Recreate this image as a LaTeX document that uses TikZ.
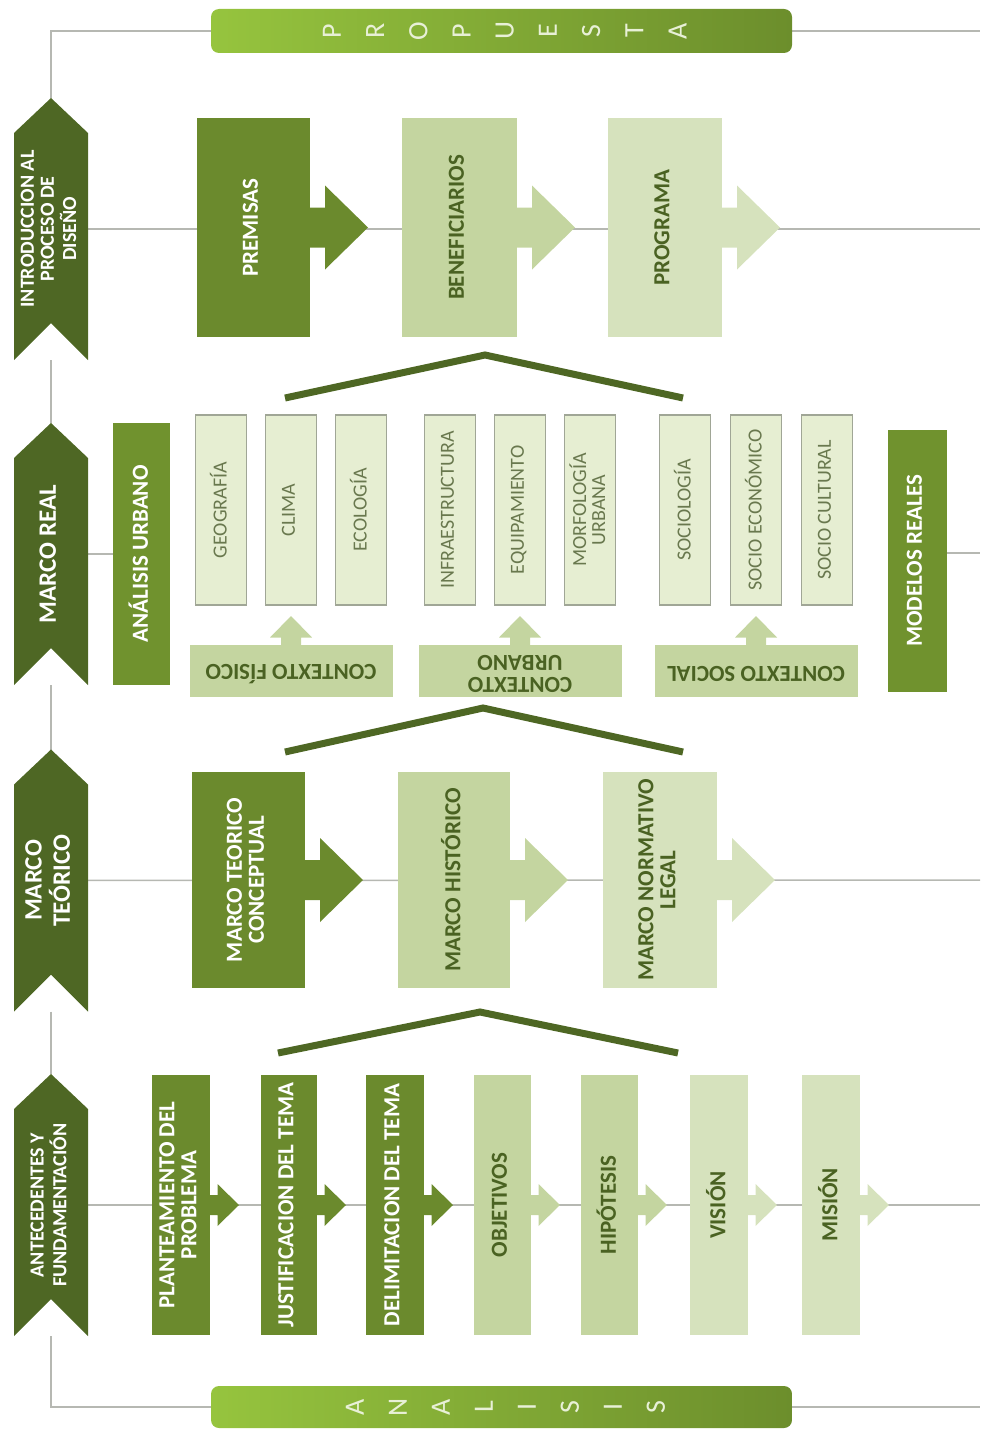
\documentclass[tikz,border=0pt]{standalone}
\usepackage{graphicx}
\usepackage{fontspec}
\setmainfont{Carlito}
\usetikzlibrary{calc,positioning,backgrounds}

\definecolor{vdosc}{RGB}{78,103,36}
\definecolor{vmed}{RGB}{107,138,45}
\definecolor{vviv}{RGB}{112,146,46}
\definecolor{vcla}{RGB}{196,213,160}
\definecolor{vpal}{RGB}{214,226,189}
\definecolor{vcre}{RGB}{230,238,210}
\definecolor{vtx}{RGB}{74,98,34}
\definecolor{vgt}{RGB}{105,120,78}
\definecolor{grl}{RGB}{182,184,178}
\definecolor{grb}{RGB}{160,166,150}
\definecolor{lima}{RGB}{150,196,62}
\definecolor{oliva}{RGB}{108,142,44}
\definecolor{pal}{RGB}{232,240,215}

% texto girado
\newcommand{\vt}[1]{\rotatebox{90}{\begin{tabular}{@{}c@{}}#1\end{tabular}}}
\newcommand{\invt}[1]{\rotatebox{180}{\begin{tabular}{@{}c@{}}#1\end{tabular}}}
% flecha de bloque: ancla, color, escala, giro
\newcommand{\flecha}[4]{\fill[#2,shift={(#1)},rotate=#4,scale=#3]
  (-2,-20) -- (15,-20) -- (15,-42) -- (58,0) -- (15,42) -- (15,20) -- (-2,20) -- cycle;}
% etiqueta en galon
\newcommand{\galon}[1]{\fill[vdosc] ($(#1.north west)+(0,35)$) -- (#1.north)
  -- ($(#1.north east)+(0,35)$) -- (#1.south east) -- ($(#1.south)+(0,-37)$)
  -- (#1.south west) -- cycle;}

\begin{document}
\begin{tikzpicture}[x=1pt,y=-1pt,
  every node/.style={inner sep=0pt,outer sep=0pt},
  bloque/.style 2 args={rectangle,minimum width=#1pt,minimum height=#2pt},
  etiq/.style={bloque={74}{262},text=white,font=\fontsize{20}{20}\selectfont\bfseries},
  fuerte/.style={fill=vmed,text=white,font=\fontsize{23}{22}\selectfont\bfseries},
  suave/.style={fill=vcla,text=vtx,font=\fontsize{23}{22}\selectfont\bfseries},
  tenue/.style={fill=vpal,text=vtx,font=\fontsize{23}{22}\selectfont\bfseries},
  factor/.style={bloque={51}{190},fill=vcre,draw=grb,line width=1.2pt,text=vgt,
    font=\fontsize{20}{19}\selectfont},
  contexto/.style={bloque={203}{52},fill=vcla,text=vtx,
    font=\fontsize{23}{20}\selectfont\bfseries},
  lateral/.style={fill=vviv,text=white,font=\fontsize{23}{22}\selectfont\bfseries},
  banda/.style={bloque={581}{44},rounded corners=8pt,left color=lima,right color=oliva},
  letra/.style={rotate=90,text=pal,font=\fontsize{28}{28}\selectfont},
  linea/.style={draw=grl,line width=1.5pt},
  techo/.style={draw=vdosc,line width=7pt}]

\useasboundingbox (0,0) rectangle (980,1429);

% franjas
\node[banda] (prop) at (501.5,31) {};
\foreach \l [count=\i] in {P,R,O,P,U,E,S,T,A}
  \node[letra] (p\i) at (332+43.2*\i-43.2,31) {\l};
\node[banda,minimum height=42pt] (ana) at (501.5,1407) {};
\foreach \l [count=\i] in {A,N,A,L,I,S,I,S}
  \node[letra] (a\i) at (355+43*\i-43,1407) {\l};

% etiquetas
\node[etiq] (int) at (51,229) {\vt{INTRODUCCION AL\\PROCESO DE\\DISEÑO}};
\node[etiq,font=\fontsize{25}{24}\selectfont\bfseries] (real) at (51,554) {\vt{MARCO REAL}};
\node[etiq,font=\fontsize{25}{24}\selectfont\bfseries] (teo) at (51,880.5) {\vt{MARCO\\TEÓRICO}};
\node[etiq] (ant) at (51,1205) {\vt{ANTECEDENTES Y\\FUNDAMENTACIÓN}};

% propuesta
\node[bloque={113}{219},fuerte] (prem) at (253.5,227.5) {\vt{PREMISAS}};
\node[bloque={115}{219},suave,right=92pt of prem] (ben) {\vt{BENEFICIARIOS}};
\node[bloque={114}{219},tenue,right=91pt of ben] (prog) {\vt{PROGRAMA}};
\flecha{prem.east}{vmed}{1}{0}
\flecha{ben.east}{vcla}{1}{0}
\flecha{prog.east}{vpal}{1}{0}

% marco real
\node[bloque={57}{262},lateral] (anu) at (141.5,554) {\vt{ANÁLISIS URBANO}};
\node[factor] (geo) at (221,510) {\vt{GEOGRAFÍA}};
\node[factor,right=19pt of geo] (cli) {\vt{CLIMA}};
\node[factor,right=19pt of cli] (eco) {\vt{ECOLOGÍA}};
\node[factor,right=38pt of eco] (inf) {\vt{INFRAESTRUCTURA}};
\node[factor,right=19pt of inf] (equ) {\vt{EQUIPAMIENTO}};
\node[factor,right=19pt of equ] (mor) {\vt{MORFOLOGÍA\\URBANA}};
\node[factor,right=44pt of mor] (soc) {\vt{SOCIOLOGÍA}};
\node[factor,right=20pt of soc] (sec) {\vt{SOCIO ECONÓMICO}};
\node[factor,right=20pt of sec] (scu) {\vt{SOCIO CULTURAL}};
\node[contexto,below=40pt of cli] (fis) {\invt{CONTEXTO FÍSICO}};
\node[contexto,below=40pt of equ] (urb) {\invt{CONTEXTO\\URBANO}};
\node[contexto,below=40pt of sec] (sol) {\invt{CONTEXTO SOCIAL}};
\flecha{fis.north}{vcla}{0.5}{90}
\flecha{urb.north}{vcla}{0.5}{90}
\flecha{sol.north}{vcla}{0.5}{90}
\node[bloque={59}{262},lateral] (mod) at (917.5,561) {\vt{MODELOS REALES}};

% marco teorico
\node[bloque={113}{216},fuerte] (mtc) at (248.5,880) {\vt{MARCO TEORICO\\CONCEPTUAL}};
\node[bloque={112}{216},suave,right=93pt of mtc] (mhi) {\vt{MARCO HISTÓRICO}};
\node[bloque={114}{216},tenue,right=93pt of mhi] (mnl) {\vt{MARCO NORMATIVO\\LEGAL}};
\flecha{mtc.east}{vmed}{1}{0}
\flecha{mhi.east}{vcla}{1}{0}
\flecha{mnl.east}{vpal}{1}{0}

% antecedentes
\node[bloque={58}{260},fuerte] (pla) at (181,1205) {\vt{PLANTEAMIENTO DEL\\PROBLEMA}};
\node[bloque={56}{260},fuerte,right=51pt of pla] (jus) {\vt{JUSTIFICACION DEL TEMA}};
\node[bloque={58}{260},fuerte,right=49pt of jus] (del) {\vt{DELIMITACION DEL TEMA}};
\node[bloque={57}{260},suave,right=50pt of del] (obj) {\vt{OBJETIVOS}};
\node[bloque={57}{260},suave,right=50pt of obj] (hip) {\vt{HIPÓTESIS}};
\node[bloque={58}{260},tenue,right=52pt of hip] (vis) {\vt{VISIÓN}};
\node[bloque={58}{260},tenue,right=54pt of vis] (mis) {\vt{MISIÓN}};
\flecha{pla.east}{vmed}{0.5}{0}
\flecha{jus.east}{vmed}{0.5}{0}
\flecha{del.east}{vmed}{0.5}{0}
\flecha{obj.east}{vcla}{0.5}{0}
\flecha{hip.east}{vcla}{0.5}{0}
\flecha{vis.east}{vpal}{0.5}{0}
\flecha{mis.east}{vpal}{0.5}{0}

% techos
\coordinate (ta1) at (285,398); \coordinate (tb1) at (485,355); \coordinate (tc1) at (683,398);
\coordinate (ta2) at (285,752); \coordinate (tb2) at (483,708); \coordinate (tc2) at (683,752);
\coordinate (ta3) at (278,1053); \coordinate (tb3) at (480,1012); \coordinate (tc3) at (678,1053);
\draw[techo] (ta1) -- (tb1) -- (tc1);
\draw[techo] (ta2) -- (tb2) -- (tc2);
\draw[techo] (ta3) -- (tb3) -- (tc3);

% lineas de fondo
\coordinate (e0) at (980,31);
\coordinate (e1) at (980,229);
\coordinate (e2) at (980,553);
\coordinate (e3) at (980,880);
\coordinate (e4) at (980,1205);
\coordinate (e5) at (980,1407);
\begin{scope}[on background layer]
  \draw[linea] (prop.west) -| (int.north);
  \draw[linea] (prop.east) -- (e0);
  \draw[linea] (int) -- (real) (real) -- (teo) (teo) -- (ant);
  \draw[linea] (ant.south) |- (ana.west);
  \draw[linea] (ana.east) -- (e5);
  \draw[linea] (int) -- (e1);
  \draw[linea] (real) -- (anu) (e2 -| mod) -- (e2);
  \draw[linea] (teo) -- (e3);
  \draw[linea] (ant) -- (e4);
  \galon{int} \galon{real} \galon{teo} \galon{ant}
\end{scope}
\end{tikzpicture}
\end{document}
